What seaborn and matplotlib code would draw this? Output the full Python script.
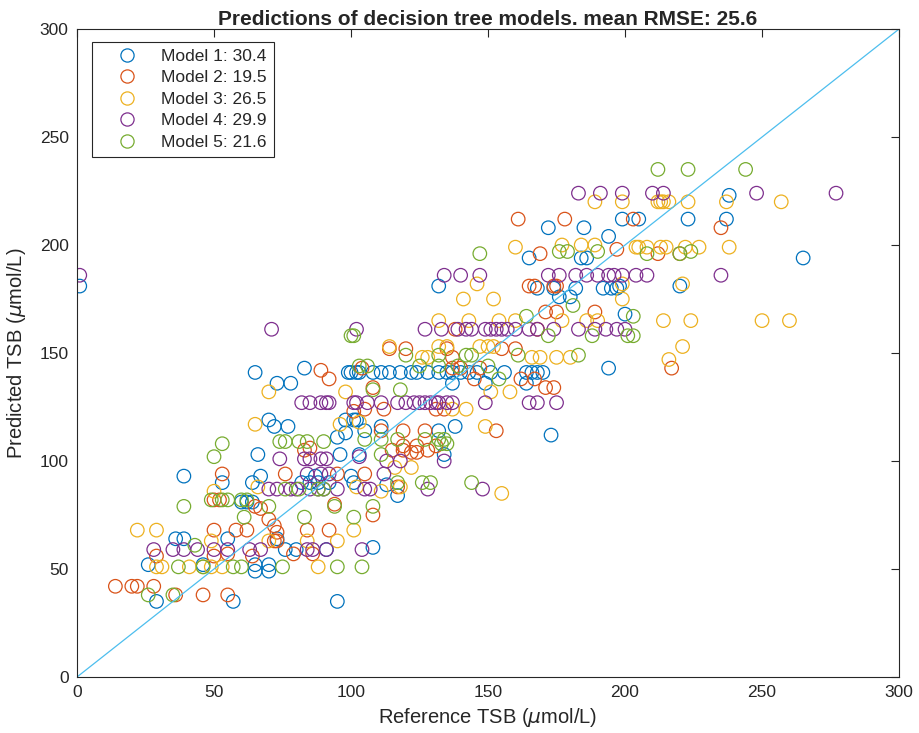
import numpy as np
import pandas as pd
import matplotlib
matplotlib.use("Agg")
import matplotlib.pyplot as plt
import seaborn as sns
from matplotlib.lines import Line2D

# Data: (reference TSB, predicted TSB)
model1_pts = [(1, 181), (265, 194), (238, 223), (199, 212), (205, 212), (223, 212), (237, 212),
              (172, 208), (185, 208), (194, 204), (220, 181), (200, 168), (198, 181), (165, 194),
              (184, 194), (186, 194), (132, 181), (168, 180), (174, 180), (182, 180), (192, 180),
              (195, 180), (197, 180), (176, 176), (180, 176),
              (100, 141), (103, 141), (108, 141), (111, 141), (114, 141), (118, 141), (122, 141),
              (124, 141), (128, 141), (132, 141), (135, 141), (137, 141), (140, 141), (143, 141),
              (146, 141), (151, 141), (156, 141), (164, 141), (166, 141), (168, 141), (170, 141),
              (194, 143), (137, 136), (149, 136), (164, 136), (173, 112), (101, 119), (111, 116),
              (132, 114), (138, 116), (105, 114),
              (65, 141), (83, 143), (73, 136), (78, 136), (70, 119), (72, 116), (77, 116),
              (99, 141), (102, 141), (98, 119), (98, 113), (95, 111), (102, 119),
              (39, 93), (66, 103), (53, 90), (64, 90), (67, 93), (60, 81), (62, 81), (64, 81),
              (36, 64), (39, 64), (55, 64), (73, 64), (76, 59), (80, 59), (91, 59), (26, 52),
              (46, 52), (65, 52), (65, 49), (70, 52), (70, 49), (29, 35), (57, 35), (95, 35),
              (82, 90), (85, 90), (88, 90), (92, 90), (96, 103), (101, 90), (100, 93), (87, 93),
              (108, 60), (117, 84), (134, 103), (103, 103), (113, 89)]

model2_pts = [(203, 212), (235, 208), (161, 212), (178, 212), (212, 196), (220, 196), (217, 143),
              (169, 196), (197, 198), (165, 181), (167, 181), (174, 181), (175, 181), (171, 169),
              (175, 169), (189, 169), (138, 161), (168, 161), (114, 152), (120, 152), (135, 152),
              (155, 152), (160, 152), (137, 148), (104, 143), (137, 143), (140, 143), (147, 143),
              (145, 138), (162, 138), (167, 138), (108, 134), (171, 134), (174, 134), (105, 124),
              (112, 124), (131, 124), (134, 124), (111, 114), (119, 114), (127, 114), (153, 114),
              (119, 107), (124, 107), (131, 107),
              (14, 42), (20, 42), (22, 42), (28, 42), (36, 38), (46, 38), (55, 38), (50, 68),
              (58, 68), (62, 68), (72, 63), (73, 63), (84, 68), (92, 68), (29, 56), (50, 56),
              (55, 57), (64, 56), (79, 57), (86, 57), (53, 94), (76, 94), (50, 82), (52, 82),
              (65, 79), (67, 78), (70, 73), (72, 70), (73, 67), (83, 105), (85, 106), (94, 80),
              (95, 94), (89, 142), (92, 138), (101, 123), (105, 94), (108, 75), (117, 88),
              (115, 105), (119, 105), (122, 104), (124, 104), (128, 105)]

model3_pts = [(189, 220), (199, 220), (212, 220), (213, 220), (214, 220), (216, 220), (223, 220),
              (237, 220), (257, 220), (204, 199), (205, 199), (208, 199), (213, 199), (215, 199),
              (222, 199), (227, 199), (238, 199), (221, 182), (199, 182), (199, 175), (214, 165),
              (224, 165), (250, 165), (260, 165), (221, 153), (216, 147),
              (160, 199), (177, 200), (184, 200), (189, 200), (146, 182), (141, 175), (152, 175),
              (132, 165), (143, 165), (154, 165), (160, 165), (177, 165), (186, 165), (190, 165),
              (114, 153), (132, 153), (135, 153), (147, 153), (150, 153), (152, 153), (126, 148),
              (128, 148), (166, 148), (169, 148), (175, 148), (180, 148), (151, 132), (158, 132),
              (137, 124), (142, 124), (149, 116), (103, 118),
              (22, 68), (29, 68), (29, 51), (31, 51), (41, 51), (46, 51), (49, 51), (53, 51),
              (88, 51), (49, 63), (84, 63), (95, 63), (50, 86), (66, 88), (70, 63), (70, 132),
              (65, 117), (98, 132), (96, 117), (116, 97), (122, 97), (102, 88), (111, 86),
              (118, 88), (155, 85), (101, 68)]

model4_pts = [(102, 161), (127, 161), (133, 161), (139, 161), (142, 161), (144, 161), (149, 161),
              (151, 161), (153, 161), (155, 161), (157, 161), (160, 161), (165, 161), (168, 161),
              (174, 161), (183, 161), (189, 161), (193, 161), (197, 161), (200, 161),
              (134, 186), (140, 186), (147, 186), (172, 186), (176, 186), (182, 186), (186, 186),
              (190, 186), (194, 186), (196, 186), (199, 186), (204, 186), (208, 186), (235, 186),
              (199, 224), (210, 224), (214, 224), (248, 224), (277, 224), (183, 224), (191, 224),
              (102, 127), (106, 127), (111, 127), (117, 127), (120, 127), (123, 127), (125, 127),
              (127, 127), (129, 127), (131, 127), (132, 127), (135, 127), (137, 127), (149, 127),
              (165, 127), (168, 127), (175, 127), (82, 127), (85, 127), (89, 127), (91, 127),
              (92, 127), (101, 127), (71, 161), (1, 186),
              (28, 59), (35, 59), (39, 59), (44, 59), (50, 59), (55, 59), (63, 59), (67, 59),
              (84, 59), (86, 59), (91, 59), (70, 87), (73, 87), (78, 87), (80, 87), (85, 87),
              (88, 87), (90, 87), (95, 87), (103, 102), (113, 100), (118, 100), (134, 100),
              (105, 87), (107, 87), (128, 87), (148, 87), (112, 94), (104, 59), (74, 101),
              (83, 101), (85, 101), (89, 101), (91, 101), (84, 94), (89, 94), (92, 94)]

model5_pts = [(212, 235), (223, 235), (244, 235), (208, 196), (220, 196), (224, 197), (203, 167),
              (203, 158), (147, 196), (176, 197), (179, 197), (190, 197), (181, 172), (188, 158),
              (172, 158), (201, 158), (164, 167), (101, 158), (120, 149), (132, 149), (142, 149),
              (144, 149), (161, 149), (183, 149), (103, 144), (106, 144), (125, 144), (132, 144),
              (139, 144), (150, 144), (154, 138), (108, 133), (118, 133), (105, 110), (111, 110),
              (117, 110), (127, 110), (132, 110), (134, 110), (100, 158), (53, 108), (74, 109),
              (76, 109), (84, 109), (50, 102), (39, 79), (49, 82), (53, 82), (55, 82), (60, 82),
              (62, 82), (61, 74), (70, 79), (83, 74), (94, 79), (37, 51), (46, 51), (57, 51),
              (60, 51), (75, 51), (95, 51), (26, 38), (35, 38), (43, 61), (76, 87), (81, 87),
              (88, 87), (90, 87), (81, 109), (90, 109), (108, 79), (101, 74), (104, 51), (126, 90),
              (129, 90), (144, 90), (111, 103), (133, 108), (135, 108), (117, 90)]

labels = ["Model 1: 30.4", "Model 2: 19.5", "Model 3: 26.5", "Model 4: 29.9", "Model 5: 21.6"]
colors = ["#0072BD", "#D95319", "#EDB120", "#7E2F8E", "#77AC30"]

frames = []
for lab, pts in zip(labels, [model1_pts, model2_pts, model3_pts, model4_pts, model5_pts]):
    arr = np.array(pts)
    frames.append(pd.DataFrame({"ref": arr[:, 0], "pred": arr[:, 1], "model": lab}))
df = pd.concat(frames, ignore_index=True)

sns.set_style("white")
plt.rcParams["font.family"] = ["Liberation Sans", "DejaVu Sans"]

fig = plt.figure(figsize=(9.19, 7.33), dpi=100)
ax = fig.add_axes([0.0838, 0.0764, 0.8945, 0.884])

sns.scatterplot(data=df, x="ref", y="pred", hue="model", palette=colors,
                s=95, linewidth=0.9, legend=False, ax=ax)
# MATLAB-style open circles
pts = ax.collections[0]
fc = pts.get_facecolors()
pts.set_edgecolors(fc)
pts.set_facecolors("none")

ax.plot([0, 300], [0, 300], color="#4DBEEE", linewidth=0.9)

ax.set_xlim(0, 300)
ax.set_ylim(0, 300)
ax.set_xticks(range(0, 301, 50))
ax.set_yticks(range(0, 301, 50))
ax.tick_params(direction="in", top=True, right=True, length=6, width=0.8,
               labelsize=12.5, colors="#262626", pad=6)
for sp in ax.spines.values():
    sp.set_color("#262626")
    sp.set_linewidth(0.8)

ax.set_xlabel(r"Reference TSB ($\mu$mol/L)", fontsize=14.5, color="#262626", labelpad=4)
ax.set_ylabel(r"Predicted TSB ($\mu$mol/L)", fontsize=14.5, color="#262626", labelpad=8)
ax.set_title("Predictions of decision tree models. mean RMSE: 25.6",
             fontsize=15, fontweight="bold", pad=3)

handles = [Line2D([], [], linestyle="", marker="o", markersize=9.5, markerfacecolor="none",
                  markeredgecolor=c, markeredgewidth=0.9) for c in colors]
leg = ax.legend(handles, labels, loc="upper left", bbox_to_anchor=(0.018, 0.98),
                borderaxespad=0, fancybox=False, framealpha=1, edgecolor="#262626",
                fontsize=12.5, handletextpad=0.4, handlelength=3.2, labelspacing=0.36,
                borderpad=0.4)
leg.get_frame().set_linewidth(0.8)

fig.savefig("out.png", dpi=100)
